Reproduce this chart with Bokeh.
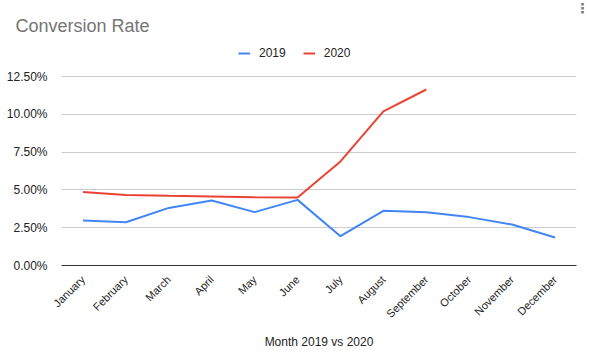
import math
from bokeh.plotting import figure
from bokeh.models import (ColumnDataSource, Legend, LegendItem, NumeralTickFormatter,
                          FixedTicker, Title)
from bokeh.embed import file_html
from bokeh.resources import INLINE

months = ["January", "February", "March", "April", "May", "June", "July",
          "August", "September", "October", "November", "December"]
rate_2019 = [2.98, 2.86, 3.81, 4.30, 3.53, 4.34, 1.94, 3.62, 3.52, 3.20, 2.71, 1.85]
months_2020 = months[:9]
rate_2020 = [4.86, 4.66, 4.61, 4.57, 4.52, 4.50, 6.88, 10.20, 11.64]
y_ticks = [0.0, 2.5, 5.0, 7.5, 10.0, 12.5]

FONT = "Liberation Sans"

# frame extends above the 12.5% line to hold the legend: 12.5% sits 189px above the axis in a 227px frame
y_top = max(y_ticks) / 100 * 227 / 189

p = figure(x_range=months, y_range=(0, y_top), frame_width=515, frame_height=227,
           output_backend="svg", toolbar_location=None, title=None,
           min_border_left=61, min_border_right=13, min_border_top=38, min_border_bottom=94)

s19 = ColumnDataSource(dict(m=months, v=[r / 100 for r in rate_2019]))
s20 = ColumnDataSource(dict(m=months_2020, v=[r / 100 for r in rate_2020]))
l19 = p.line("m", "v", source=s19, line_color="#4285F4", line_width=2)
l20 = p.line("m", "v", source=s20, line_color="#EA4335", line_width=2)

legend = Legend(items=[LegendItem(label="2019", renderers=[l19]),
                       LegendItem(label="2020", renderers=[l20])],
                orientation="horizontal", location=(177, 205),
                label_text_font=FONT, label_text_font_size="12px", label_text_color="#222222",
                glyph_width=12, glyph_height=12, label_height=12, label_standoff=9,
                spacing=17, border_line_color=None,
                background_fill_alpha=0, margin=0, padding=2)
p.add_layout(legend, "center")

p.add_layout(Title(text="Conversion Rate", align="left", offset=-46, standoff=6,
                   text_font=FONT, text_font_size="18px", text_font_style="normal",
                   text_color="#757575"), "above")
p.add_layout(Title(text="⋮", align="right", offset=-13, standoff=-11,
                   text_font="DejaVu Sans", text_font_size="14px", text_font_style="bold",
                   text_color="#757575"), "above")

p.yaxis.ticker = FixedTicker(ticks=[t / 100 for t in y_ticks])
p.yaxis.formatter = NumeralTickFormatter(format="0.00%")
p.yaxis.axis_line_color = None
p.yaxis.major_tick_line_color = None
p.yaxis.minor_tick_line_color = None
p.yaxis.major_label_text_font = FONT
p.yaxis.major_label_text_font_size = "12px"
p.yaxis.major_label_text_color = "#222222"
p.yaxis.major_label_standoff = 8

p.xaxis.axis_line_color = "#333333"
p.xaxis.axis_line_width = 1
p.xaxis.major_tick_line_color = None
p.xaxis.minor_tick_line_color = None
p.xaxis.major_label_orientation = math.pi / 4
p.xaxis.major_label_standoff = 6
p.xaxis.major_label_text_font = FONT
p.xaxis.major_label_text_font_size = "11px"
p.xaxis.major_label_text_color = "#222222"
p.xaxis.axis_label = "Month 2019 vs 2020"
p.xaxis.axis_label_text_font = FONT
p.xaxis.axis_label_text_font_size = "12px"
p.xaxis.axis_label_text_font_style = "normal"
p.xaxis.axis_label_text_color = "#222222"
p.xaxis.axis_label_standoff = 8

p.xgrid.grid_line_color = None
p.ygrid.grid_line_color = "#cccccc"
p.outline_line_color = None

open("out.html", "w").write(file_html(p, INLINE))
